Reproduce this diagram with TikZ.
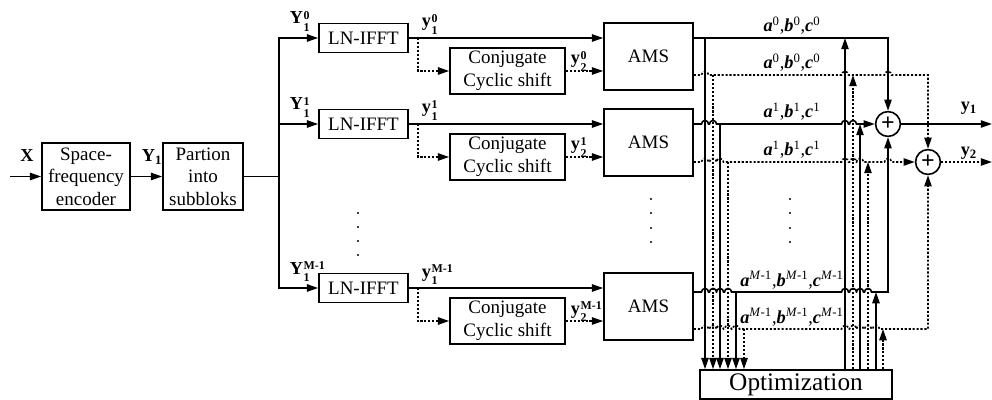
\documentclass[tikz,border=0pt]{standalone}
\usepackage{fontspec}
\setmainfont{Liberation Serif}
\usetikzlibrary{arrows.meta,calc,positioning}

% signal label: bold letter with stacked sub/superscript
\newcommand{\sig}[3]{\textbf{#1}\kern0.4pt\raisebox{-0.42em}{\bfseries\fontsize{8.5}{8}\selectfont\shortstack[l]{#3\\#2}}}
% signal label with subscript only
\newcommand{\sigl}[2]{\textbf{#1}\textsubscript{\bfseries #2}}
% coefficient label
\newcommand{\coef}[1]{\textbf{\textit{a}}\textsuperscript{#1},\textbf{\textit{b}}\textsuperscript{#1},\textbf{\textit{c}}\textsuperscript{#1}}
% horizontal line with hops: style, start, y, hop list, rest of path
\newcommand{\hopline}[5]{%
  \draw[#1] (#2) \foreach \h in {#4} { -- (\h-3.5,#3) arc[start angle=180, end angle=360, radius=3.5] } #5;}

\begin{document}
\begin{tikzpicture}[x=0.025cm, y=-0.025cm, line width=1.15pt,
  >={Triangle[length=8pt,width=5.2pt]},
  block/.style={draw, line width=1.15pt, align=center, inner sep=0pt,
    font=\fontsize{13.5}{16}\selectfont},
  dots/.style={dash pattern=on 1.5pt off 1.3pt},
  lab/.style={inner sep=0pt, font=\fontsize{13}{15}\selectfont},
  coeflab/.style={inner sep=0pt, font=\fontsize{13}{15}\selectfont},
  sum/.style={draw, circle, minimum size=0.62cm, inner sep=0pt,
    font=\fontsize{17}{17}\selectfont\bfseries}]

\useasboundingbox (0,0) rectangle (992,400);

% --- Input chain ---
\node[block, minimum width=2.2cm, minimum height=1.675cm] (enc) at (86,176.5) {Space-\\frequency\\encoder};
\node[block, minimum width=2.0cm, minimum height=1.675cm] (part) at (203,176.5) {Partion\\into\\subbloks};
\coordinate (xin) at (10,176.5);
\draw[->] (xin) -- (enc.west);
\draw[->] (enc.east) -- (part.west);
\node[lab, anchor=base] (lX) at (27,162) {\textbf{X}};
\node[lab, anchor=base west] (lY) at (141,162) {\sigl{Y}{1}};

% --- Bus ---
\coordinate (busT) at (279,38);
\coordinate (busB) at (279,288);
\draw (part.east) -- (part.east -| busT);
\draw[line cap=rect] (busT) -- (busB);

% --- Subblock rows ---
\foreach \r/\y/\so/\do/\s/\sc in {0/38/38/75/0/0, 1/124/124/162/1/1, 2/288/292/329/M-1/{\textit{M}-1}} {
  \node[block, minimum width=2.225cm, minimum height=0.725cm] (ifft\r) at (363.5,\y) {LN-IFFT};
  \node[block, minimum width=2.875cm, minimum height=1.15cm] (conj\r) at (507.5,\y+33) {Conjugate\\Cyclic shift};
  \node[block, minimum width=2.225cm, minimum height=1.675cm] (ams\r) at (648.5,\y+18.5) {AMS};
  \draw[->] (busT |- ifft\r.west) -- (ifft\r.west);
  \draw[->] (ifft\r.east) -- (ifft\r.east -| ams\r.west);
  \coordinate (br\r) at (418,\y);
  \draw[dots,->] (br\r) |- (conj\r.west);
  \draw[dots,->] (conj\r.east) -- (conj\r.east -| ams\r.west);
  \node[lab, anchor=base west] (lY\r) at (289,\y-14) {\sig{Y}{1}{\s}};
  \node[lab, anchor=base west] (ly\r) at (421,\y-11) {\sig{y}{1}{\s}};
  \node[lab, anchor=base west] (lz\r) at (570,\y+26) {\sig{y}{2}{\s}};
  \node[coeflab, anchor=base] (ca\r) at (792,\so-6) {\coef{\sc}};
  \node[coeflab, anchor=base] (cb\r) at (792,\do-6) {\coef{\sc}};
}

% --- Vertical dots ---
\foreach \yy in {213,227,241,255} \fill (358,\yy) circle (1.1);
\foreach \yy in {199,213,228,242} {
  \fill (651,\yy) circle (1.1);
  \fill (790,\yy) circle (1.1);
}

% --- Combiners and optimization ---
\node[sum] (plus1) at (888,124) {+};
\node[sum] (plus2) at (928,162) {+};
\node[draw, line width=1.15pt, minimum width=4.8cm, minimum height=0.725cm, inner sep=0pt,
  font=\fontsize{18}{20}\selectfont] (opt) at (796,384.5) {Optimization};

% --- To optimization ---
\foreach \x/\yy/\st in {705/38/solid, 713/75/dots, 720/124/solid, 728/162/dots, 736/292/solid, 744/329/dots}
  \draw[\st,->] (\x,\yy) -- (\x,\yy |- opt.north);

% --- From optimization ---
\foreach \x/\yy/\st in {845/38/solid, 853/75/dots, 860/124/solid, 868/162/dots, 876/292/solid, 883/329/dots}
  \draw[\st,->] (\x,\yy |- opt.north) -- (\x,\yy);

% --- AMS outputs ---
\draw[->] (ams0.east |- 0,38) -- (888,38) -- (plus1.north);
\hopline{dots,->}{ams0.east |- 0,75}{75}{705,845,888}{-- (928,75) -- (plus2.north)}
\hopline{->}{ams1.east |- 0,124}{124}{705,713,845,853}{-- (plus1.west)}
\hopline{dots,->}{ams1.east |- 0,162}{162}{705,713,720,845,853,860,888}{-- (plus2.west)}
\hopline{->}{ams2.east |- 0,292}{292}{705,713,720,728,845,853,860,868}{-- (888,292) -- (plus1.south)}
\hopline{dots,->}{ams2.east |- 0,329}{329}{705,713,720,728,736,845,853,860,868,876}{-- (928,329) -- (plus2.south)}

% --- Outputs ---
\coordinate (out1) at (992,124);
\coordinate (out2) at (992,162);
\draw[->] (plus1.east) -- (out1);
\draw[dots,->] (plus2.east) -- (out2);
\node[lab, anchor=base west] (ly1) at (960,111) {\sigl{y}{1}};
\node[lab, anchor=base west] (ly2) at (960,156) {\sigl{y}{2}};

\end{tikzpicture}
\end{document}
